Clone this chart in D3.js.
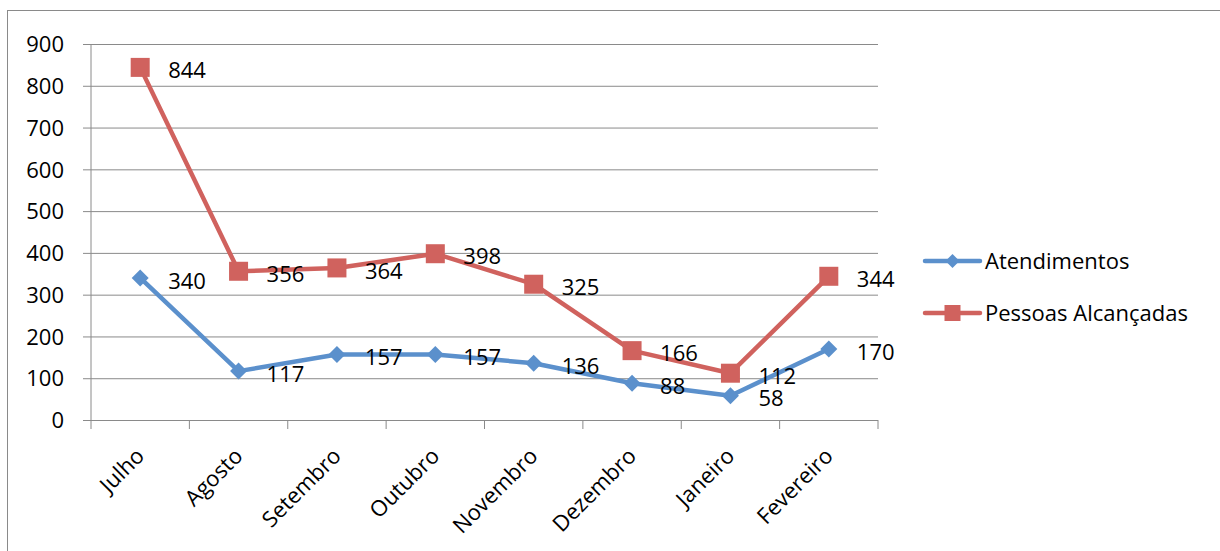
<!DOCTYPE html>
<html>
<head>
<meta charset="utf-8">
<script src="https://cdn.jsdelivr.net/npm/d3@7"></script>
<style>
  html, body { margin: 0; padding: 0; background: #fff; }
  svg { display: block; font-family: "Open Sans", Lato, sans-serif; }
</style>
</head>
<body>
<svg id="chart" width="1220" height="551"></svg>
<script>
// Monthly figures
const months = ["Julho", "Agosto", "Setembro", "Outubro", "Novembro", "Dezembro", "Janeiro", "Fevereiro"];
const atendimentos = [340, 117, 157, 157, 136, 88, 58, 170];
const pessoasAlcancadas = [844, 356, 364, 398, 325, 166, 112, 344];
const yTicks = [0, 100, 200, 300, 400, 500, 600, 700, 800, 900];

const seriesList = [
  { name: "Atendimentos", values: atendimentos, color: "#5B90CC", marker: "diamond" },
  { name: "Pessoas Alcançadas", values: pessoasAlcancadas, color: "#D0625E", marker: "square" }
];

const svg = d3.select("#chart");
const plot = { left: 91, right: 878, top: 44, bottom: 420 };
const fontSize = 22;
const fontFamily = "'Open Sans', Lato, sans-serif";

// Outer chart frame (runs past the right and bottom edges)
svg.append("rect")
  .attr("x", 7.5).attr("y", 10.5)
  .attr("width", 1240).attr("height", 560)
  .attr("fill", "none").attr("stroke", "#8a8a8a").attr("stroke-width", 1);

const x = d3.scaleBand().domain(months).range([plot.left, plot.right]).padding(0);
const y = d3.scaleLinear().domain([0, 900]).range([plot.bottom, plot.top]);

// Horizontal gridlines with outward ticks via the left axis
const yAxis = d3.axisLeft(y).tickValues(yTicks)
  .tickSize(-(plot.right - plot.left)).tickFormat(d3.format("d"));
const gy = svg.append("g").attr("transform", `translate(${plot.left},0)`).call(yAxis)
  .attr("font-family", fontFamily).attr("font-size", fontSize);
gy.select(".domain").remove();
gy.selectAll(".tick line").attr("stroke", "#8a8a8a").attr("x1", -8);
gy.selectAll(".tick text").attr("fill", "#000")
  .attr("x", -27).attr("dy", "0.35em");

// Vertical axis line
svg.append("line")
  .attr("x1", plot.left).attr("x2", plot.left)
  .attr("y1", plot.top).attr("y2", plot.bottom)
  .attr("stroke", "#8a8a8a");

// Category axis with boundary ticks
const xAxis = d3.axisBottom(x).tickSize(0).tickFormat(d => d);
const gx = svg.append("g").attr("transform", `translate(0,${plot.bottom})`).call(xAxis)
  .attr("font-family", fontFamily).attr("font-size", fontSize);
gx.select(".domain").attr("stroke", "#8a8a8a").attr("d", `M${plot.left},0.5H${plot.right}`);
gx.selectAll(".tick text")
  .attr("fill", "#000")
  .attr("text-anchor", "end")
  .attr("transform", "translate(0,32) rotate(-45)")
  .attr("x", 0).attr("y", 0).attr("dy", "0.35em");

const boundaries = months.map(m => x(m)).concat([plot.right]);
gx.selectAll(".bound").data(boundaries).enter().append("line")
  .attr("class", "bound")
  .attr("x1", d => d).attr("x2", d => d)
  .attr("y1", 0).attr("y2", 9)
  .attr("stroke", "#8a8a8a");

const cx = m => x(m) + x.bandwidth() / 2;

function drawMarker(g, type, color, px, py, size) {
  if (type === "diamond") {
    const h = size / 2;
    g.append("path")
      .attr("d", `M${px},${py - h}L${px + h},${py}L${px},${py + h}L${px - h},${py}Z`)
      .attr("fill", color);
  } else {
    g.append("rect")
      .attr("x", px - size / 2).attr("y", py - size / 2)
      .attr("width", size).attr("height", size)
      .attr("fill", color);
  }
}

const line = d3.line().x((d, i) => cx(months[i])).y(d => y(d));

seriesList.forEach(s => {
  const g = svg.append("g");
  g.append("path").datum(s.values)
    .attr("d", line)
    .attr("fill", "none").attr("stroke", s.color)
    .attr("stroke-width", 4.5).attr("stroke-linejoin", "round");
  s.values.forEach((v, i) => {
    drawMarker(g, s.marker, s.color, cx(months[i]), y(v), s.marker === "diamond" ? 17 : 19);
  });
});

// Value labels to the right of each point
seriesList.forEach(s => {
  svg.append("g").selectAll("text").data(s.values).enter().append("text")
    .attr("x", (d, i) => cx(months[i]) + 28)
    .attr("y", d => y(d) + 3)
    .attr("dy", "0.35em")
    .attr("font-size", fontSize).attr("fill", "#000")
    .text(d => d);
});

// Legend
const legend = svg.append("g");
seriesList.forEach((s, i) => {
  const ly = 261 + i * 52;
  legend.append("line")
    .attr("x1", 925).attr("x2", 980).attr("y1", ly).attr("y2", ly)
    .attr("stroke", s.color).attr("stroke-width", 4.5).attr("stroke-linecap", "round");
  drawMarker(legend, s.marker, s.color, 952.5, ly, s.marker === "diamond" ? 14 : 16);
  legend.append("text")
    .attr("x", 985).attr("y", ly).attr("dy", "0.35em")
    .attr("font-size", fontSize).attr("fill", "#000")
    .text(s.name);
});
</script>
</body>
</html>
